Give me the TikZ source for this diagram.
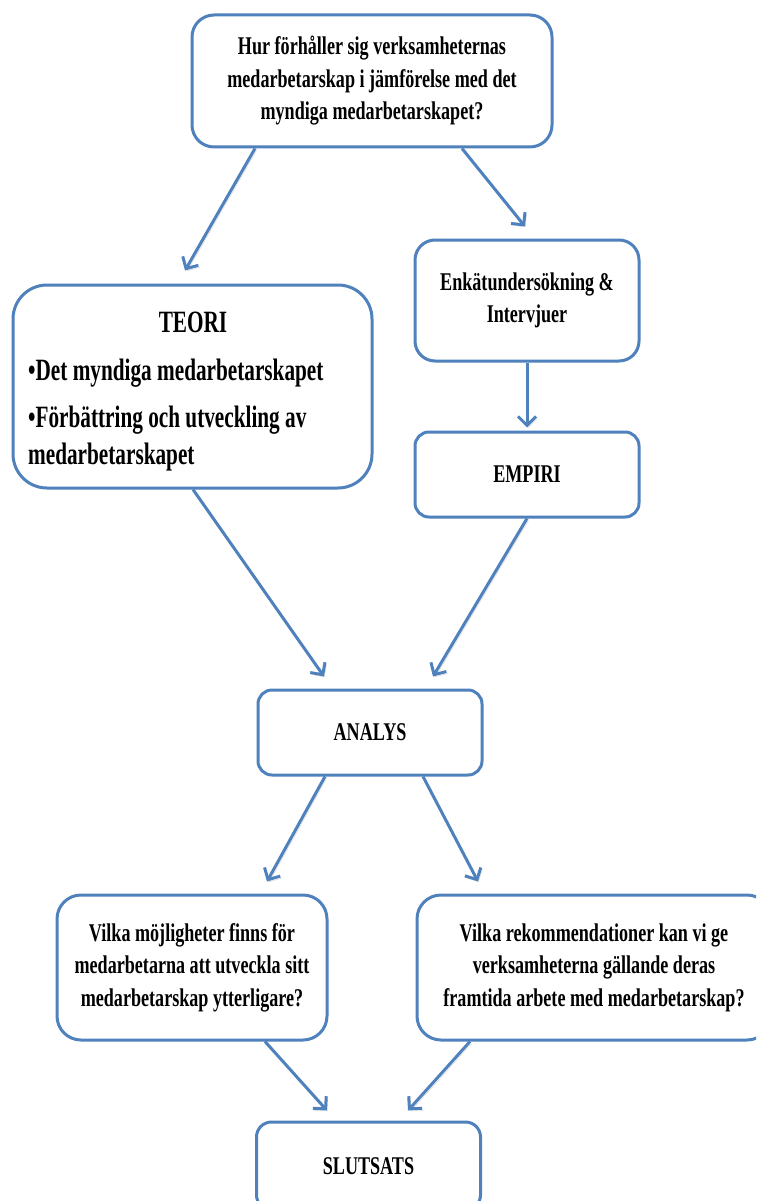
\documentclass[tikz,border=0pt]{standalone}
\usepackage{fontspec}
\setmainfont{Liberation Serif}[FakeStretch=0.71]
\newfontfamily\teorifont{Liberation Serif}[FakeStretch=0.685]
\usetikzlibrary{arrows.meta,calc}
\definecolor{flowblue}{RGB}{79,129,189}
\begin{document}
\begin{tikzpicture}[x=1pt,y=-1pt,
  box/.style={draw=flowblue, line width=3pt, fill=white, rounded corners=#1,
    inner sep=0pt, align=center,
    font=\bfseries\fontsize{25.5}{32.5}\selectfont},
  box/.default=15pt,
  teoritext/.style={inner sep=0pt, font=\teorifont\bfseries\fontsize{31}{37}\selectfont},
  flow/.style={draw=flowblue, line width=3pt,
    -{Straight Barb[length=9pt,width=18pt]},
    preaction={draw=black, opacity=0.18,
      transform canvas={shift={(1.5pt,-2pt)}}}},
]
\useasboundingbox (0,0) rectangle (756,1201);
\clip (0,0) rectangle (756,1201);
\fill[white] (0,0) rectangle (756,1201);

% boxes
\node[box=22pt, minimum width=360pt, minimum height=132pt] (q) at (372,81)
  {Hur förhåller sig verksamheternas\\medarbetarskap i jämförelse med det\\myndiga medarbetarskapet?};
\node[box=34pt, minimum width=359pt, minimum height=203pt] (teori) at (192.5,386.5) {};
\node[box=20pt, minimum width=224pt, minimum height=121pt] (enk) at (527,300.5)
  {Enkätundersökning \&\\Intervjuer};
\node[box=14pt, minimum width=224pt, minimum height=85pt] (emp) at (527,474.5) {EMPIRI};
\node[box=14pt, minimum width=224pt, minimum height=85pt] (ana) at (370,732.5) {ANALYS};
\node[box=24pt, minimum width=270pt, minimum height=145pt] (moj) at (192,967.5)
  {Vilka möjligheter finns för\\medarbetarna att utveckla sitt\\medarbetarskap ytterligare?};
\node[box=24pt, minimum width=354pt, minimum height=145pt] (rek) at (594,967.5)
  {Vilka rekommendationer kan vi ge\\verksamheterna gällande deras\\framtida arbete med medarbetarskap?};
\node[box=15pt, minimum width=224pt, minimum height=88pt] (slut) at (368.5,1166) {SLUTSATS};

% theory box contents
\node[teoritext, anchor=base] (tt) at (193,332) {TEORI};
\node[teoritext, anchor=base west] (t1) at (28,380) {•Det myndiga medarbetarskapet};
\node[teoritext, anchor=base west] (t2) at (28,427) {•Förbättring och utveckling av};
\node[teoritext, anchor=base west] (t3) at (28,464) {medarbetarskapet};

% connectors
\draw[flow] ($(q.south)+(-117,0)$) -- ($(teori.north)+(-7.5,-13)$);
\draw[flow] ($(q.south)+(90,0)$) -- ($(enk.north)+(-2,-12)$);
\draw[flow] (enk.south) -- ($(emp.north)+(0,-3)$);
\draw[flow] ($(teori.south)+(0.5,0)$) -- ($(ana.north)+(-46,-12)$);
\draw[flow] (emp.south) -- ($(ana.north)+(63,-12)$);
\draw[flow] ($(ana.south)+(-45,0)$) -- ($(moj.north)+(75,-12)$);
\draw[flow] ($(ana.south)+(53,0)$) -- ($(rek.north)+(-116,-12)$);
\draw[flow] ($(moj.south)+(73,0)$) -- ($(slut.north)+(-41.5,-10)$);
\draw[flow] ($(rek.south)+(-124,0)$) -- ($(slut.north)+(39.5,-10)$);
\end{tikzpicture}
\end{document}
